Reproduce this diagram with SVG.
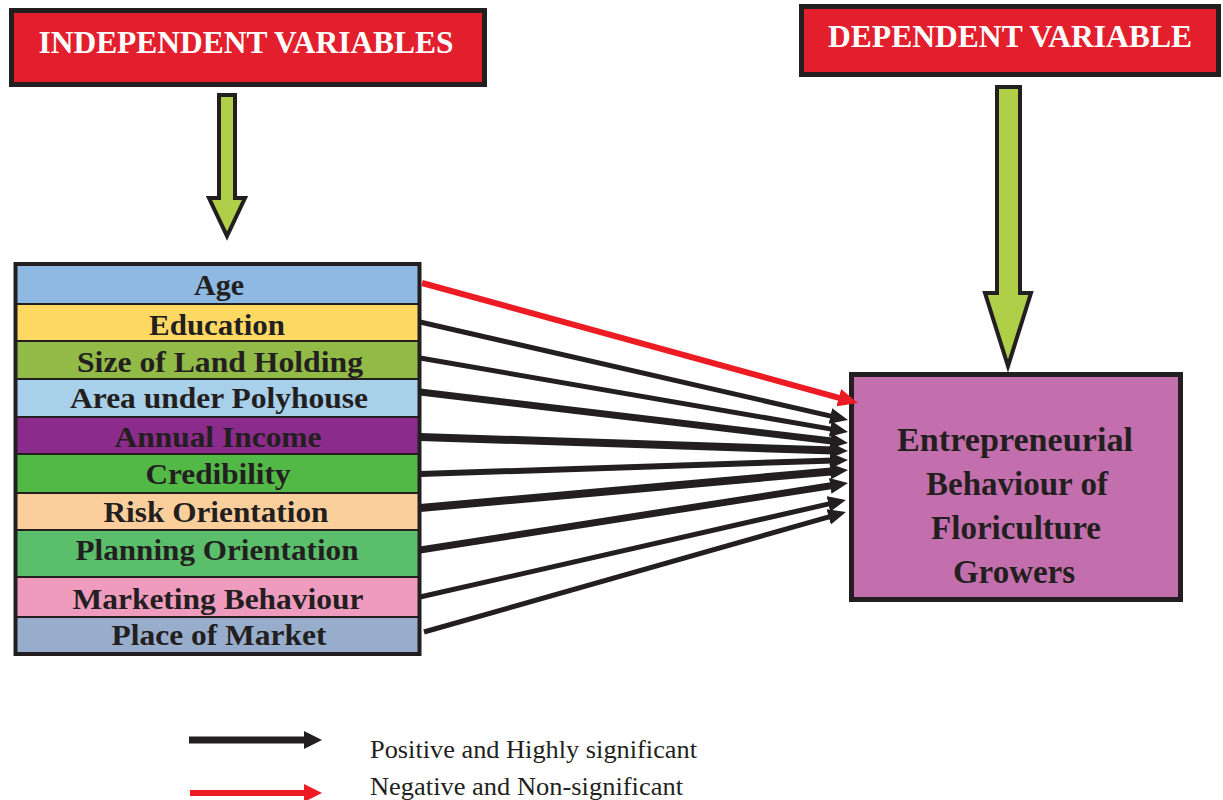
<svg xmlns="http://www.w3.org/2000/svg" width="1223" height="800" viewBox="0 0 1223 800">
<style>
.hdr{fill:#E31E2D;stroke:#231F20;stroke-width:5}
.hdrt{font-family:"Liberation Serif","Times New Roman",serif;font-weight:bold;font-size:31px;fill:#FFFFFF;text-anchor:middle}
.garrow{fill:#B0CF48;stroke:#231F20;stroke-width:4;stroke-linejoin:miter}
.row{stroke:none}
.sep{stroke:#231F20;stroke-width:2}
.lbl{font-family:"Liberation Serif","Times New Roman",serif;font-weight:bold;font-size:30px;fill:#231F20;text-anchor:middle}
.tgt{fill:#C36FAD;stroke:#231F20;stroke-width:5}
.tgtt{font-family:"Liberation Serif","Times New Roman",serif;font-weight:bold;font-size:33px;fill:#231F20;text-anchor:middle}
.blk{stroke:#231F20;fill:none;marker-end:url(#hb)}
.red{stroke:#ED1C24;fill:none;marker-end:url(#hr)}
.leg{font-family:"Liberation Serif","Times New Roman",serif;font-size:26px;fill:#231F20}
</style>
<defs>
<marker id="hb" markerUnits="userSpaceOnUse" viewBox="0 -8 18 16" markerWidth="18" markerHeight="16" refX="4" refY="0" orient="auto">
<path d="M0,-8 L18,0 L0,8 z" fill="#231F20"/>
</marker>
<marker id="hr" markerUnits="userSpaceOnUse" viewBox="0 -9 20 18" markerWidth="20" markerHeight="18" refX="6" refY="0" orient="auto">
<path d="M0,-9 L20,0 L0,9 z" fill="#ED1C24"/>
</marker>
</defs>
<rect width="1223" height="800" fill="#FFFFFF"/>

<g id="independent-header">
<rect class="hdr" x="11.5" y="10.5" width="473" height="74"/>
<text class="hdrt" x="246" y="53" textLength="415" lengthAdjust="spacingAndGlyphs">INDEPENDENT VARIABLES</text>
</g>
<g id="independent-arrow">
<polygon class="garrow" points="219,95 235,95 235,198 245,198 227,236 209,198 219,198"/>
</g>

<g id="dependent-header">
<rect class="hdr" x="801.5" y="6.5" width="417" height="68"/>
<text class="hdrt" x="1010" y="47" textLength="364" lengthAdjust="spacingAndGlyphs">DEPENDENT VARIABLE</text>
</g>
<g id="dependent-arrow">
<polygon class="garrow" points="997,87 1020,87 1020,293 1031,293 1008,366 985,293 997,293"/>
</g>

<g id="variables-table">
<rect class="row" x="15" y="264" width="405" height="40" fill="#8DB9E2"/>
<rect class="row" x="15" y="304" width="405" height="37" fill="#FDD964"/>
<rect class="row" x="15" y="341" width="405" height="38" fill="#92BA47"/>
<rect class="row" x="15" y="379" width="405" height="38" fill="#A8D0EA"/>
<rect class="row" x="15" y="417" width="405" height="37" fill="#8B2C8C"/>
<rect class="row" x="15" y="454" width="405" height="39" fill="#52B947"/>
<rect class="row" x="15" y="493" width="405" height="37" fill="#FBCF9C"/>
<rect class="row" x="15" y="530" width="405" height="47" fill="#5BBE6A"/>
<rect class="row" x="15" y="577" width="405" height="40" fill="#EF9BBE"/>
<rect class="row" x="15" y="617" width="405" height="37" fill="#97ADCB"/>
<line class="sep" x1="15" y1="304" x2="420" y2="304"/>
<line class="sep" x1="15" y1="341" x2="420" y2="341"/>
<line class="sep" x1="15" y1="379" x2="420" y2="379"/>
<line class="sep" x1="15" y1="417" x2="420" y2="417"/>
<line class="sep" x1="15" y1="454" x2="420" y2="454"/>
<line class="sep" x1="15" y1="493" x2="420" y2="493"/>
<line class="sep" x1="15" y1="530" x2="420" y2="530"/>
<line class="sep" x1="15" y1="577" x2="420" y2="577"/>
<line class="sep" x1="15" y1="617" x2="420" y2="617"/>
<rect x="15.5" y="264" width="404" height="390" fill="none" stroke="#231F20" stroke-width="4"/>
</g>
<g id="var-age"><text class="lbl" x="219" y="295" textLength="50" lengthAdjust="spacingAndGlyphs">Age</text></g>
<g id="var-education"><text class="lbl" x="217" y="335" textLength="136" lengthAdjust="spacingAndGlyphs">Education</text></g>
<g id="var-size-land"><text class="lbl" x="220" y="372" textLength="286" lengthAdjust="spacingAndGlyphs">Size of Land Holding</text></g>
<g id="var-area-polyhouse"><text class="lbl" x="219" y="408" textLength="298" lengthAdjust="spacingAndGlyphs">Area under Polyhouse</text></g>
<g id="var-annual-income"><text class="lbl" x="218" y="447" textLength="207" lengthAdjust="spacingAndGlyphs">Annual Income</text></g>
<g id="var-credibility"><text class="lbl" x="218" y="484" textLength="145" lengthAdjust="spacingAndGlyphs">Credibility</text></g>
<g id="var-risk"><text class="lbl" x="216" y="522" textLength="225" lengthAdjust="spacingAndGlyphs">Risk Orientation</text></g>
<g id="var-planning"><text class="lbl" x="217" y="560" textLength="283" lengthAdjust="spacingAndGlyphs">Planning Orientation</text></g>
<g id="var-marketing"><text class="lbl" x="218" y="609" textLength="291" lengthAdjust="spacingAndGlyphs">Marketing Behaviour</text></g>
<g id="var-place"><text class="lbl" x="219" y="645" textLength="215" lengthAdjust="spacingAndGlyphs">Place of Market</text></g>

<g id="target">
<rect class="tgt" x="851.5" y="374.5" width="329" height="225"/>
<text class="tgtt" x="1015" y="451" textLength="236" lengthAdjust="spacingAndGlyphs">Entrepreneurial</text>
<text class="tgtt" x="1017" y="495">Behaviour of</text>
<text class="tgtt" x="1016" y="539">Floriculture</text>
<text class="tgtt" x="1014" y="583">Growers</text>
</g>

<g id="connectors">
<line class="red" x1="422" y1="283" x2="844.5" y2="399.3" stroke-width="6"/>
<line class="blk" x1="420" y1="322" x2="834.3" y2="416.9" stroke-width="5"/>
<line class="blk" x1="420" y1="358" x2="834.2" y2="429.6" stroke-width="5"/>
<line class="blk" x1="420" y1="392" x2="834.1" y2="441.3" stroke-width="7"/>
<line class="blk" x1="420" y1="437" x2="834" y2="450.5" stroke-width="8"/>
<line class="blk" x1="420" y1="474" x2="834" y2="460.5" stroke-width="6"/>
<line class="blk" x1="420" y1="508" x2="834.1" y2="471.2" stroke-width="8"/>
<line class="blk" x1="420" y1="550" x2="834.2" y2="485.2" stroke-width="7"/>
<line class="blk" x1="420" y1="597" x2="832.3" y2="503.1" stroke-width="5"/>
<line class="blk" x1="424" y1="632" x2="832.5" y2="515.8" stroke-width="5"/>
</g>

<g id="legend">
<line x1="189" y1="740" x2="306" y2="740" stroke="#231F20" stroke-width="7"/>
<polygon points="304,731 322,740 304,749" fill="#231F20"/>
<line x1="190" y1="793" x2="306" y2="793" stroke="#ED1C24" stroke-width="6"/>
<polygon points="304,784 322,793 304,802" fill="#ED1C24"/>
<text class="leg" x="370" y="758" textLength="327" lengthAdjust="spacingAndGlyphs">Positive and Highly significant</text>
<text class="leg" x="370" y="795" textLength="313" lengthAdjust="spacingAndGlyphs">Negative and Non-significant</text>
</g>
</svg>
